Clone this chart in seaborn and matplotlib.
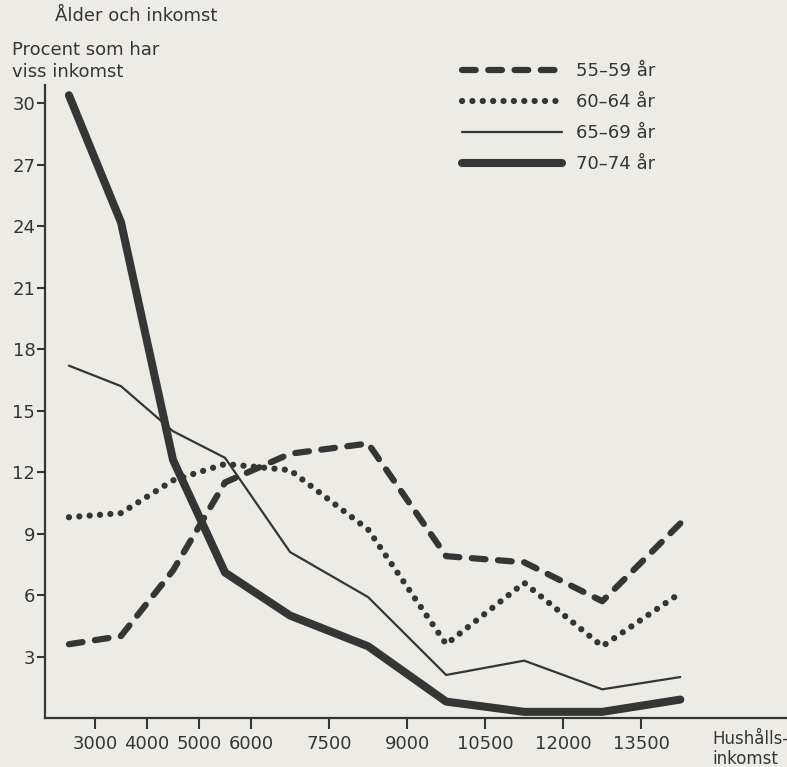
import pandas as pd
import matplotlib
matplotlib.use("Agg")
import matplotlib.pyplot as plt
import seaborn as sns

# Hushållsinkomst (klassmitt) och procent per åldersgrupp
inkomst = [2500, 3500, 4500, 5500, 6750, 8250, 9750, 11250, 12750, 14250]
ar_55_59 = [3.6, 4.0, 7.2, 11.5, 12.9, 13.4, 7.9, 7.6, 5.7, 9.5]
ar_60_64 = [9.8, 10.0, 11.6, 12.4, 12.1, 9.2, 3.6, 6.6, 3.5, 6.1]
ar_65_69 = [17.2, 16.2, 14.0, 12.7, 8.1, 5.9, 2.1, 2.8, 1.4, 2.0]
ar_70_74 = [30.4, 24.2, 12.6, 7.1, 5.0, 3.5, 0.8, 0.3, 0.3, 0.9]

grupper = ["55\u201359 år", "60\u201364 år", "65\u201369 år", "70\u201374 år"]
xticks = [3000, 4000, 5000, 6000, 7500, 9000, 10500, 12000, 13500]
yticks = [3, 6, 9, 12, 15, 18, 21, 24, 27, 30]

df = pd.DataFrame({
    "inkomst": inkomst * 4,
    "procent": ar_55_59 + ar_60_64 + ar_65_69 + ar_70_74,
    "grupp": [g for g in grupper for _ in inkomst],
})

bg = "#ecebe6"
ink = "#353535"

sns.set_style("ticks")
plt.rcParams["font.family"] = ["DejaVu Sans"]

fig = plt.figure(figsize=(7.87, 7.67), dpi=100, facecolor=bg)
ax = fig.add_axes([45 / 787, 49 / 767, 742 / 787, 633 / 767])
ax.set_facecolor(bg)

# stil per serie: linjebredd och streckmönster
stilar = {
    grupper[0]: dict(lw=4.5, dashes=(2.2, 2.0)),
    grupper[1]: dict(lw=4.5, dashes=(0.01, 1.65)),
    grupper[2]: dict(lw=1.6, dashes=None),
    grupper[3]: dict(lw=5.8, dashes=None),
}

handles = []
for g in grupper:
    st = stilar[g]
    sub = df[df["grupp"] == g]
    sns.lineplot(data=sub, x="inkomst", y="procent", ax=ax, color=ink,
                 linewidth=st["lw"], legend=False)
    line = ax.lines[-1]
    line.set_solid_capstyle("round")
    line.set_solid_joinstyle("round")
    line.set_dash_capstyle("round")
    if st["dashes"] is not None:
        line.set_dashes(st["dashes"])
    handles.append(line)

ax.set_xlim(2040, 16300)
ax.set_ylim(0, 30.9)
ax.set_xticks(xticks)
ax.set_yticks(yticks)
ax.set_xlabel("")
ax.set_ylabel("")
ax.tick_params(axis="x", direction="out", length=8, width=1.5, colors=ink,
               labelsize=13, pad=4)
ax.tick_params(axis="y", direction="out", length=6, width=1.5, colors=ink,
               labelsize=13, pad=1)
for s in ["top", "right"]:
    ax.spines[s].set_visible(False)
for s in ["left", "bottom"]:
    ax.spines[s].set_linewidth(1.6)
    ax.spines[s].set_color(ink)

leg = ax.legend(handles, grupper, loc="upper left",
                bbox_to_anchor=(446 / 787, 1 - 46 / 767), bbox_transform=fig.transFigure,
                frameon=False, fontsize=13, handlelength=5.5, handletextpad=0.8,
                labelspacing=0.72, labelcolor=ink)

fig.text(55 / 787, 1 - 16 / 767, "Ålder och inkomst", fontsize=13, color=ink,
         va="center", ha="left")
fig.text(12 / 787, 1 - 61 / 767, "Procent som har\nviss inkomst", fontsize=13,
         color=ink, va="center", ha="left", linespacing=1.3)
fig.text(712 / 787, 1 - 749 / 767, "Hushålls-\ninkomst", fontsize=12, color=ink,
         va="center", ha="left", linespacing=1.15)

fig.savefig("out.png", dpi=100, facecolor=bg)
